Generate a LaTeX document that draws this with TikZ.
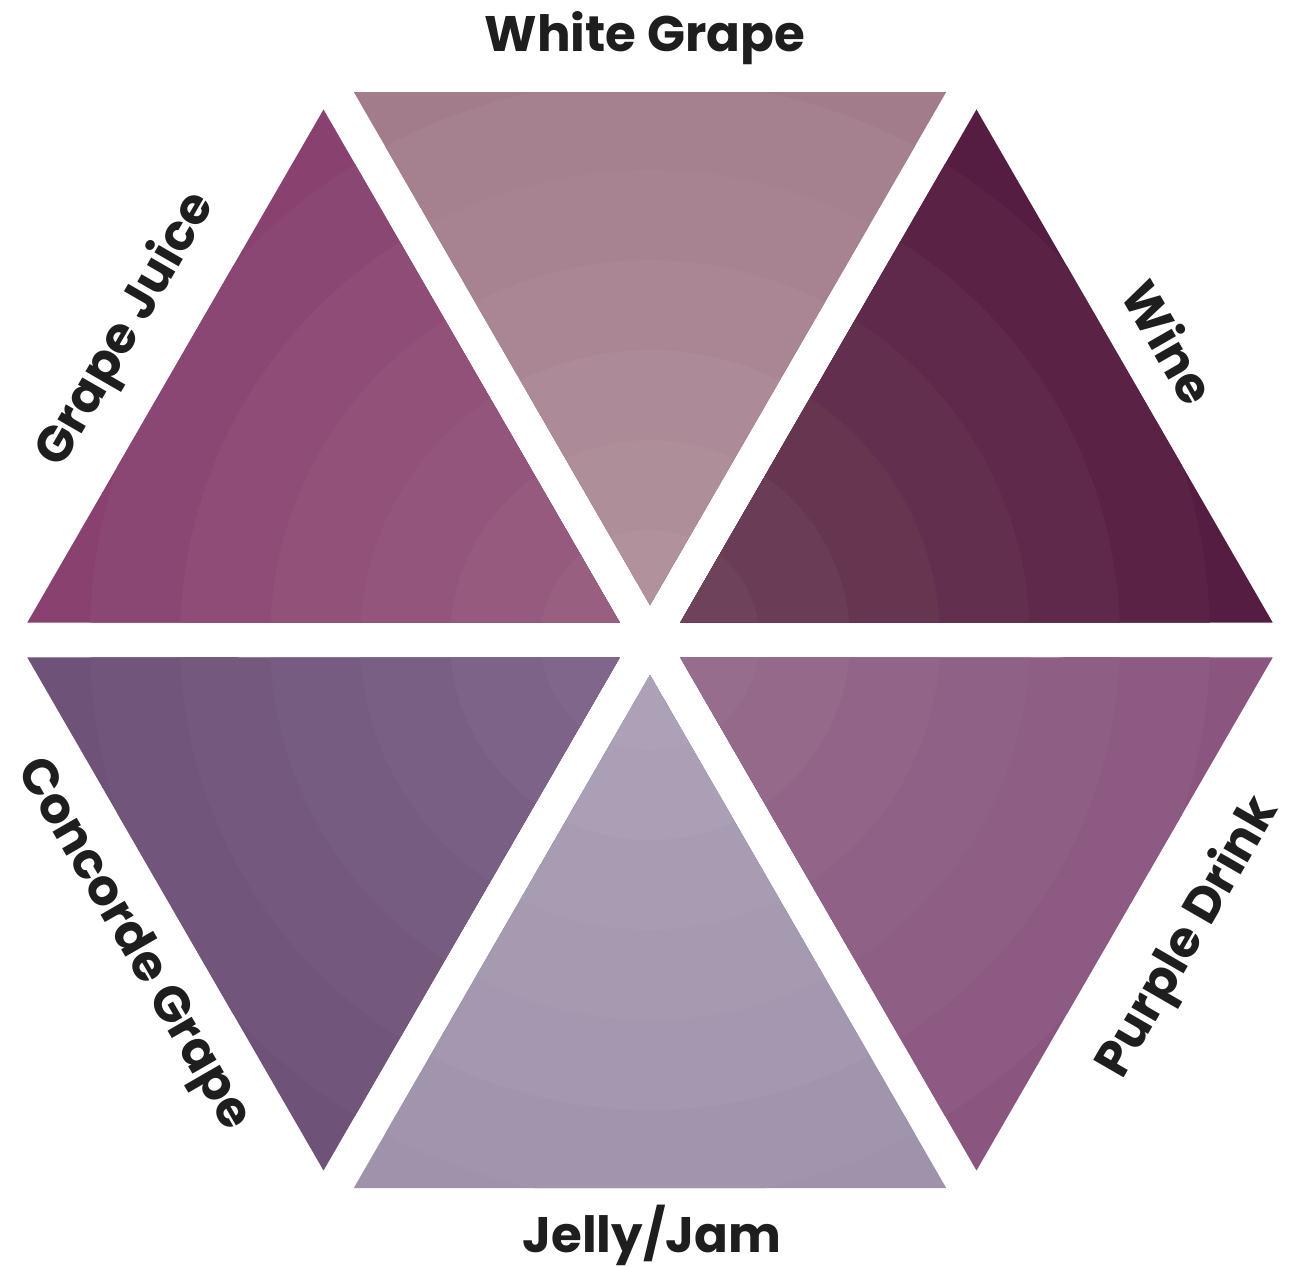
\documentclass[tikz,border=0pt]{standalone}
\usepackage{fontspec}
\newfontfamily\lblfont{Poppins}
\definecolor{wgO}{HTML}{A37C8C}\definecolor{wgI}{HTML}{B0919C}
\definecolor{wiO}{HTML}{561D42}\definecolor{wiI}{HTML}{6E4259}
\definecolor{gjO}{HTML}{894270}\definecolor{gjI}{HTML}{985F81}
\definecolor{cgO}{HTML}{6E5277}\definecolor{cgI}{HTML}{80668A}
\definecolor{jjO}{HTML}{9F93AB}\definecolor{jjI}{HTML}{ACA1B6}
\definecolor{pdO}{HTML}{8A5680}\definecolor{pdI}{HTML}{966D8C}
\definecolor{txt}{HTML}{1E1E1E}
\newcommand{\grapesector}[3]{%
  \begin{scope}
    \clip[shift={(ctr)}, rotate=#1] (0.35,0) -- (5.48,2.962) -- (5.48,-2.962) -- cycle;
    \foreach \ii in {0,...,6} {
      \pgfmathsetmacro\rad{6.5-\ii*0.9}
      \pgfmathsetmacro\mixv{\ii*100/6}
      \fill[#3!\mixv!#2] (ctr) circle (\rad);
    }
  \end{scope}}
\tikzset{lbl/.style={font=\lblfont\bfseries\fontsize{14.2pt}{16pt}\selectfont, text=txt, inner sep=0pt}}
\begin{document}
\begin{tikzpicture}
\useasboundingbox (0,0) rectangle (12.91,12.66);
\fill[white] (0,0) rectangle (12.91,12.66);
\coordinate (ctr) at (6.50,6.26);
\grapesector{90}{wgO}{wgI}
\grapesector{30}{wiO}{wiI}
\grapesector{-30}{pdO}{pdI}
\grapesector{-90}{jjO}{jjI}
\grapesector{210}{cgO}{cgI}
\grapesector{150}{gjO}{gjI}
\node[lbl] (wg) at (6.45,12.28) {White Grape};
\node[lbl] (jj) at (6.52,0.31) {Jelly/Jam};
\node[lbl, rotate=60] (gj) at (1.27,9.36) {Grape Juice};
\node[lbl, rotate=-60] (wi) at (11.70,9.24) {Wine};
\node[lbl, rotate=60] (pd) at (11.89,3.28) {Purple Drink};
\node[lbl, rotate=-60] (cg) at (1.32,3.21) {Concorde Grape};
\end{tikzpicture}
\end{document}
